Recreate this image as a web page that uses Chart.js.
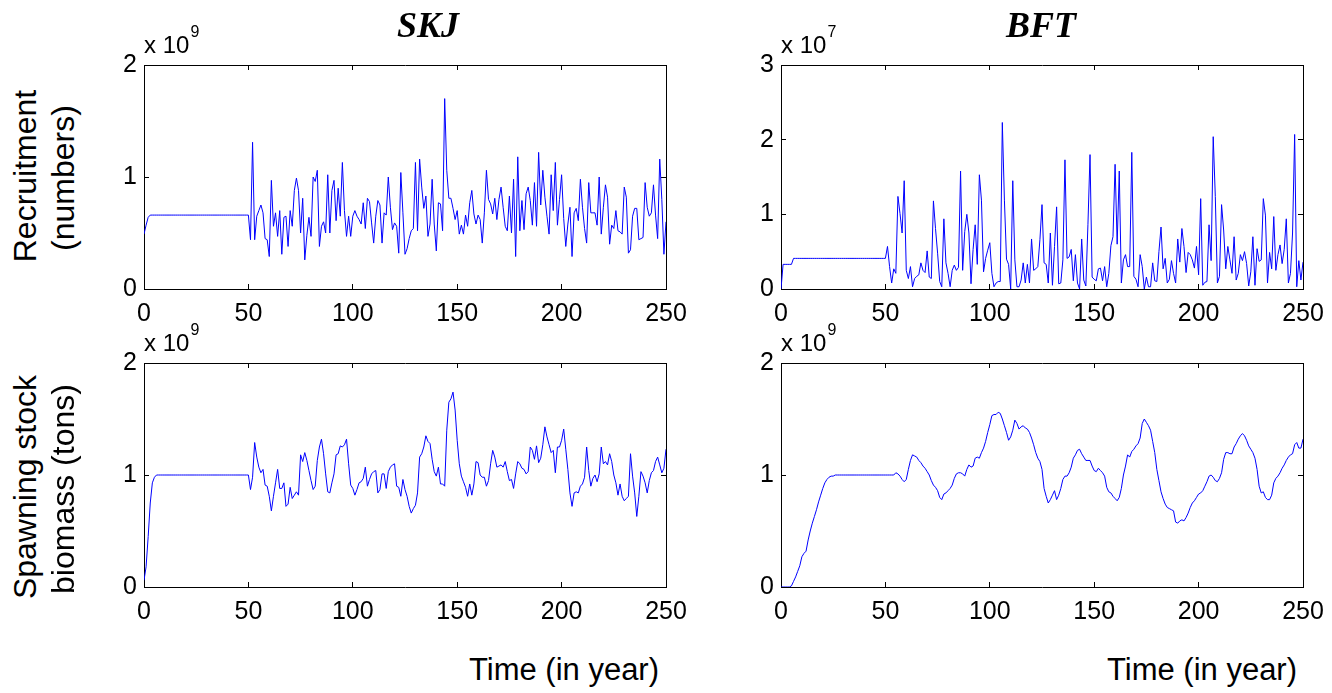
<!DOCTYPE html>
<html><head><meta charset="utf-8">
<script src="https://cdn.jsdelivr.net/npm/chart.js@4/dist/chart.umd.min.js"></script>
<style>
html,body{margin:0;padding:0;background:#fff;}
#root{position:relative;width:1332px;height:693px;overflow:hidden;font-family:"Liberation Sans",Arial,sans-serif;color:#000;background:#fff;}
canvas{position:absolute;}
.t{position:absolute;white-space:nowrap;line-height:1;}
.c{transform:translateX(-50%);}
.rot{position:absolute;white-space:nowrap;line-height:1;font-size:32px;transform:translate(-50%,-50%) rotate(-90deg);}
.ttl{font-family:"Liberation Serif","Times New Roman",serif;font-weight:bold;font-style:italic;font-size:36px;}
.xt{font-size:31px;}
.ex{font-size:24px;}
.ex span{font-size:16px;position:relative;top:-16px;margin-left:1px;}
</style></head>
<body>
<div id="root">
  <canvas id="c1"></canvas><canvas id="c2"></canvas><canvas id="c3"></canvas><canvas id="c4"></canvas>
  <div class="t c ttl" style="left:428px;top:7px;">SKJ</div>
  <div class="t c ttl" style="left:1041px;top:7px;">BFT</div>
  <div class="t ex" style="left:144px;top:33px;">x 10<span>9</span></div>
  <div class="t ex" style="left:781px;top:33px;">x 10<span>7</span></div>
  <div class="t ex" style="left:144px;top:331px;">x 10<span>9</span></div>
  <div class="t ex" style="left:781px;top:331px;">x 10<span>9</span></div>
  <div class="rot" style="left:25px;top:176px;">Recruitment</div>
  <div class="rot" style="left:63px;top:178px;">(numbers)</div>
  <div class="rot" style="left:25px;top:487px;">Spawning stock</div>
  <div class="rot" style="left:63px;top:489px;">biomass (tons)</div>
  <div class="t c xt" style="left:564px;top:654px;">Time (in year)</div>
  <div class="t c xt" style="left:1202px;top:654px;">Time (in year)</div>
</div>
<script>
// Years 0..250 (x categories)
const years = Array.from({length: 251}, (_, i) => i);
const xTicks = [0, 50, 100, 150, 200, 250];

// SKJ recruitment (x 10^9 numbers)
const skjRecruit = [
0.49,0.57,0.64,
0.66,0.66,0.66,0.66,0.66,0.66,0.66,0.66,0.66,0.66,0.66,0.66,0.66,0.66,0.66,0.66,0.66,0.66,0.66,0.66,0.66,0.66,0.66,0.66,
0.66,0.66,0.66,0.66,0.66,0.66,0.66,0.66,0.66,0.66,0.66,0.66,0.66,0.66,0.66,0.66,0.66,0.66,0.66,0.66,0.66,0.66,0.66,0.66,
0.44,1.31,0.44,0.65,0.70,0.75,0.68,0.45,0.44,0.29,
0.97,0.56,0.68,0.47,0.70,0.31,0.64,0.65,0.38,0.70,
0.56,0.88,0.99,0.88,0.50,0.81,0.26,0.48,0.64,0.47,
1.00,0.96,1.06,0.38,0.56,0.60,0.50,1.02,0.50,0.88,
0.97,0.61,0.90,0.65,1.13,0.70,0.47,0.65,0.47,0.65,
0.70,0.65,0.62,0.58,0.77,0.54,0.81,0.78,0.59,0.41,
0.65,0.79,0.75,0.41,0.68,0.66,1.00,0.73,0.53,0.59,
0.56,0.32,1.04,0.68,0.31,0.36,0.45,0.52,0.54,1.13,
0.52,1.16,0.91,0.72,0.83,0.47,0.58,0.98,0.58,0.34,
0.77,0.76,0.52,1.70,1.06,0.81,0.81,0.72,0.62,0.70,
0.49,0.57,0.49,0.66,0.56,0.77,0.88,0.67,0.58,0.66,
0.62,0.41,0.68,1.06,0.80,0.76,0.67,0.81,0.62,0.80,
0.91,0.73,0.56,0.52,0.83,0.50,0.98,0.29,1.18,0.52,
0.79,0.53,0.85,0.91,0.79,0.57,0.95,0.56,1.22,0.75,
1.06,0.82,0.65,0.49,1.02,0.70,1.13,0.57,0.80,1.02,
0.63,0.38,0.58,0.73,0.29,0.68,0.72,0.61,0.98,0.73,
0.54,0.41,0.95,0.68,0.68,0.68,0.57,1.00,0.49,0.73,
0.93,0.82,0.40,0.57,0.54,0.70,0.52,0.51,0.49,0.91,
0.82,0.32,0.35,0.65,0.72,0.72,0.44,0.45,0.46,0.95,
0.73,0.65,0.68,0.93,0.66,0.45,1.16,0.80,0.31,0.60];

// BFT recruitment (x 10^7 numbers)
const bftRecruit = [
0.00,0.33,0.33,0.33,0.33,0.33,
0.41,0.41,0.41,0.41,0.41,0.41,0.41,0.41,0.41,0.41,0.41,0.41,0.41,0.41,0.41,0.41,0.41,0.41,0.41,0.41,0.41,0.41,0.41,
0.41,0.41,0.41,0.41,0.41,0.41,0.41,0.41,0.41,0.41,0.41,0.41,0.41,0.41,0.41,0.41,0.41,0.41,0.41,0.41,0.41,0.41,
0.57,0.30,0.08,0.27,0.21,1.24,1.01,0.75,1.45,0.25,
0.14,0.30,0.03,0.14,0.17,0.19,0.35,0.25,0.22,0.51,
0.16,0.14,1.18,0.81,0.48,0.10,0.03,0.94,0.35,0.21,
0.03,0.25,0.32,0.25,0.29,1.58,0.25,0.77,1.00,0.75,
0.07,0.53,0.86,0.33,1.53,1.19,0.23,0.41,0.52,0.62,
0.21,0.03,0.08,0.10,0.10,2.23,1.19,0.40,0.33,0.00,
1.45,0.39,0.03,0.03,0.12,0.35,0.08,0.33,0.08,0.67,
0.25,0.27,0.30,0.66,1.13,0.35,0.33,0.08,0.75,0.05,
0.57,1.10,0.07,0.08,0.39,1.73,0.41,0.43,0.53,0.11,
0.46,0.08,0.00,0.67,0.12,0.04,0.86,1.80,0.16,0.13,
0.11,0.27,0.28,0.11,0.30,0.03,0.21,0.58,0.70,1.67,
0.60,1.58,0.08,0.39,0.46,0.30,0.30,1.83,0.17,0.13,
0.03,0.46,0.30,0.00,0.16,0.03,0.03,0.35,0.11,0.10,
0.50,0.83,0.27,0.41,0.08,0.13,0.38,0.21,0.08,0.67,
0.36,0.81,0.57,0.22,0.49,0.46,0.39,0.28,0.57,0.19,
1.21,0.05,0.09,0.10,0.86,0.38,2.04,1.24,0.08,0.17,
1.13,0.79,0.27,0.57,0.39,0.21,0.70,0.12,0.21,0.46,
0.38,0.50,0.34,0.04,0.23,0.70,0.05,0.54,0.37,0.39,
1.21,0.99,0.08,0.49,0.27,0.97,0.25,0.46,0.59,0.34,
0.53,0.94,0.08,0.21,0.75,2.07,0.03,0.38,0.12,0.36];

// SKJ spawning stock biomass (x 10^9 tons)
const skjSSB = [
0.06,0.18,0.45,0.75,0.93,0.98,
1.00,1.00,1.00,1.00,1.00,1.00,1.00,1.00,1.00,1.00,1.00,1.00,1.00,1.00,1.00,1.00,1.00,1.00,1.00,1.00,1.00,1.00,1.00,
1.00,1.00,1.00,1.00,1.00,1.00,1.00,1.00,1.00,1.00,1.00,1.00,1.00,1.00,1.00,1.00,1.00,1.00,1.00,1.00,1.00,1.00,
0.87,0.98,1.29,1.16,1.07,1.02,1.05,0.91,0.90,0.81,
0.68,0.81,0.93,1.05,0.88,0.88,0.93,0.72,0.74,0.89,
0.79,0.82,0.85,0.82,1.18,1.12,1.20,1.13,1.04,0.95,
0.87,0.90,1.13,1.25,1.32,1.19,1.01,0.85,0.84,0.93,
1.01,1.18,1.19,1.26,1.25,1.27,1.32,1.10,0.91,0.88,
0.82,0.87,0.93,0.94,0.97,1.07,0.90,0.96,1.01,1.03,
1.04,0.84,0.87,1.01,1.01,0.88,1.03,1.07,1.09,1.10,
0.90,0.89,0.81,0.96,0.87,0.81,0.72,0.66,0.70,0.73,
0.84,1.16,1.19,1.25,1.35,1.30,1.28,1.14,1.03,0.99,
1.07,0.92,0.92,0.90,1.40,1.65,1.68,1.74,1.58,1.31,
1.10,0.99,0.94,0.89,0.81,0.92,0.82,0.92,1.12,1.11,
1.00,0.98,0.98,0.90,0.95,1.10,1.22,1.16,1.07,1.08,
1.09,1.07,1.12,1.03,0.95,0.96,0.88,1.01,1.12,1.10,
1.06,1.05,1.01,1.03,1.25,1.22,1.14,1.26,1.11,1.15,
1.27,1.43,1.34,1.27,1.20,1.22,1.02,1.25,1.25,1.31,
1.41,1.23,1.05,0.84,0.72,0.84,0.85,0.84,0.90,0.92,
0.98,1.25,1.04,0.90,0.97,1.00,0.94,1.01,1.25,1.10,
1.12,1.09,1.19,1.12,1.00,0.93,0.82,0.92,0.81,0.77,
0.79,0.81,1.19,0.99,0.84,0.63,0.81,1.03,0.99,0.93,
0.84,0.95,1.02,1.04,1.12,1.16,1.09,1.02,1.06,1.23];

// BFT spawning stock biomass (x 10^9 tons)
const bftSSB = [
0.00,0.00,0.00,0.00,0.00,
0.01,0.05,0.09,0.14,0.19,0.27,0.30,0.32,0.42,0.50,0.57,0.63,0.69,0.76,0.82,0.88,0.93,0.96,0.98,0.99,0.99,
1.00,1.00,1.00,1.00,1.00,1.00,1.00,1.00,1.00,1.00,1.00,1.00,1.00,1.00,1.00,1.00,1.00,1.00,1.00,1.00,1.00,1.00,1.00,1.00,1.00,1.00,1.00,1.00,1.00,
1.02,1.01,0.99,0.96,0.94,0.96,
1.05,1.13,1.18,1.17,1.16,1.13,1.11,1.08,1.06,1.03,
1.00,0.95,0.91,0.89,0.86,0.80,0.78,0.83,0.84,0.86,
0.88,0.91,0.97,1.01,1.02,1.02,1.01,0.99,1.05,1.09,
1.07,1.08,1.15,1.16,1.15,1.20,1.24,1.30,1.38,1.45,
1.53,1.54,1.54,1.56,1.55,1.50,1.44,1.38,1.31,1.34,
1.40,1.49,1.46,1.41,1.43,1.44,1.42,1.41,1.38,1.33,
1.27,1.20,1.15,1.12,1.05,0.88,0.81,0.75,0.78,0.82,
0.86,0.78,0.82,0.88,0.96,0.99,0.99,1.02,1.07,1.15,
1.18,1.22,1.23,1.19,1.16,1.13,1.13,1.13,1.08,1.04,
1.03,1.06,1.04,1.02,0.99,0.89,0.85,0.84,0.81,0.79,
0.77,0.80,0.88,1.00,1.08,1.18,1.16,1.21,1.23,1.26,
1.28,1.33,1.46,1.50,1.47,1.44,1.40,1.30,1.20,1.05,
0.95,0.85,0.79,0.74,0.71,0.70,0.69,0.68,0.58,0.57,
0.59,0.60,0.59,0.62,0.66,0.71,0.75,0.77,0.80,0.83,
0.84,0.86,0.90,0.94,0.99,1.00,0.98,0.95,0.94,0.97,
1.02,1.14,1.20,1.20,1.19,1.19,1.25,1.28,1.32,1.35,
1.37,1.35,1.31,1.26,1.23,1.20,1.15,1.05,0.90,0.84,
0.85,0.80,0.78,0.78,0.82,0.93,0.97,0.99,1.02,1.06,
1.09,1.13,1.16,1.18,1.19,1.27,1.29,1.24,1.24,1.32];

Chart.defaults.font.family = "'Liberation Sans', Arial, sans-serif";
Chart.defaults.color = '#000';

const PW = 522, PH = 224, PL = 60, PT = 40, PR = 55, PB = 50;
const tickFont = {family: "'Liberation Sans', Arial, sans-serif", size: 25};

function frameGrid() {
  return {drawOnChartArea: false, color: '#000', lineWidth: 1, tickLength: -5, tickWidth: 1};
}

function panel(id, left, top, values, yMax) {
  const cv = document.getElementById(id);
  cv.width = PW + PL + PR;
  cv.height = PH + PT + PB;
  cv.style.left = (left - PL) + 'px';
  cv.style.top = (top - PT) + 'px';
  const pts = years.map((x, i) => ({x: x, y: values[i]}));
  new Chart(cv, {
    type: 'line',
    data: {datasets: [{data: pts, borderColor: '#0000ff', borderWidth: 1, pointRadius: 0, tension: 0, fill: false}]},
    options: {
      responsive: false, animation: false, devicePixelRatio: 1,
      events: [],
      layout: {padding: {top: PT, right: PR, left: 0, bottom: 0}},
      plugins: {legend: {display: false}, tooltip: {enabled: false}, title: {display: false}},
      scales: {
        x: {type: 'linear', position: 'bottom', min: 0, max: 250,
            afterFit: s => { s.height = PB; },
            afterBuildTicks: s => { s.ticks = xTicks.map(v => ({value: v})); },
            grid: frameGrid(), border: {color: '#000', width: 1},
            ticks: {padding: 15, color: '#000', font: tickFont, maxRotation: 0, autoSkip: false}},
        x2: {type: 'linear', position: 'top', min: 0, max: 250,
            afterFit: s => { s.height = 0; },
            afterBuildTicks: s => { s.ticks = xTicks.map(v => ({value: v})); },
            grid: frameGrid(), border: {color: '#000', width: 1},
            ticks: {display: false}},
        y: {type: 'linear', position: 'left', min: 0, max: yMax,
            afterFit: s => { s.width = PL; },
            grid: frameGrid(), border: {color: '#000', width: 1},
            ticks: {stepSize: 1, padding: 12, color: '#000', font: tickFont}},
        y2: {type: 'linear', position: 'right', min: 0, max: yMax,
            afterFit: s => { s.width = 0; },
            grid: frameGrid(), border: {color: '#000', width: 1},
            ticks: {stepSize: 1, display: false}}
      }
    }
  });
}

panel('c1', 144, 65, skjRecruit, 2);
panel('c2', 781, 65, bftRecruit, 3);
panel('c3', 144, 363, skjSSB, 2);
panel('c4', 781, 363, bftSSB, 2);
</script>
</body></html>
